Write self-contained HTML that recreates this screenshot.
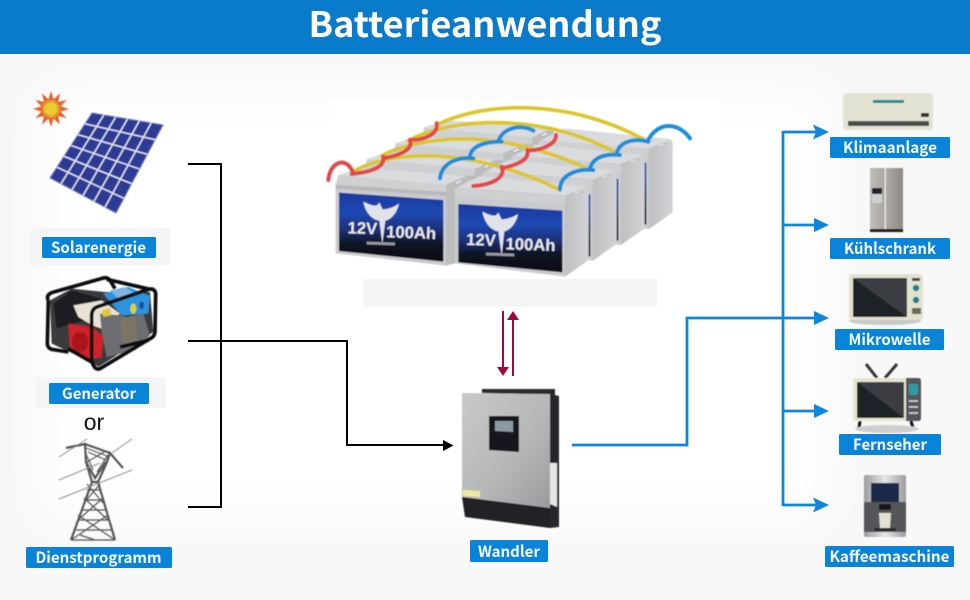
<!DOCTYPE html>
<html><head><meta charset="utf-8"><style>
html,body{margin:0;padding:0;width:970px;height:600px;overflow:hidden;background:#f8f8f8}
svg{display:block}
.l{font-family:"Noto Sans CJK SC","Liberation Sans",sans-serif;font-weight:700;font-size:15.5px;fill:#f4faff;text-anchor:middle}
</style></head><body>
<svg width="970" height="600" viewBox="0 0 970 600" xmlns="http://www.w3.org/2000/svg">
<defs>
<filter id="soft" x="-10%" y="-10%" width="120%" height="120%"><feGaussianBlur stdDeviation="22"/></filter>
<filter id="b1" x="-5%" y="-5%" width="110%" height="110%"><feGaussianBlur stdDeviation=".45"/></filter>
<linearGradient id="lab" x1="0" y1="0" x2="0" y2="1"><stop offset="0" stop-color="#1a3a9e"/><stop offset=".3" stop-color="#1e49b4"/><stop offset=".55" stop-color="#1b2f72"/><stop offset=".75" stop-color="#0e1220"/><stop offset="1" stop-color="#111116"/></linearGradient>
<linearGradient id="side" x1="0" y1="0" x2="1" y2="0"><stop offset="0" stop-color="#bfc0c2"/><stop offset="1" stop-color="#d2d3d5"/></linearGradient>
<linearGradient id="steel" x1="0" y1="0" x2="1" y2="1"><stop offset="0" stop-color="#c9c9ca"/><stop offset=".6" stop-color="#b4b5b6"/><stop offset="1" stop-color="#9a9b9c"/></linearGradient>
<linearGradient id="fr" x1="0" y1="0" x2="1" y2="0"><stop offset="0" stop-color="#c0bdb8"/><stop offset=".45" stop-color="#a8a5a0"/><stop offset=".55" stop-color="#aaa7a2"/><stop offset="1" stop-color="#8d8a85"/></linearGradient>
<linearGradient id="sc" x1="0" y1="1" x2="1" y2="0"><stop offset="0" stop-color="#1d2026"/><stop offset=".5" stop-color="#1d2026"/><stop offset=".5" stop-color="#3a3d43"/><stop offset="1" stop-color="#3a3d43"/></linearGradient>
<linearGradient id="cof" x1="0" y1="0" x2="1" y2="0"><stop offset="0" stop-color="#9c9c9c"/><stop offset=".5" stop-color="#e6e6e6"/><stop offset="1" stop-color="#9c9c9c"/></linearGradient>
<g id="batL">
<polygon points="55,255 118,233 440,257 378,285" fill="#dadbdc"/>
<polygon points="47,282 55,255 378,285 378,310 47,285" fill="#cfd0d2"/>
<polygon points="378,285 440,257 445,275 405,295 405,520 378,527" fill="#bcbdbf"/>
<polygon points="47,284 378,306 378,527 47,490" fill="#cacbcd"/>
<polygon points="47,284 378,306 378,318 47,296" fill="#b8b9bb"/>
<polygon points="402,280 420,270 430,272 412,282" fill="#f4f4f4" stroke="#999" stroke-width="1.5"/>
</g>
<g id="batR">
<polygon points="412,293 480,258 800,290 735,318" fill="#dadbdc"/>
<polygon points="735,318 800,290 806,300 806,510 735,560" fill="url(#side)"/>
<polygon points="405,298 412,293 735,318 735,345 405,322" fill="#cfd0d2"/>
<polygon points="405,320 735,342 735,560 405,520" fill="#cacbcd"/>
<polygon points="415,342 727,362 727,547 415,517" fill="url(#lab)"/>
<polygon points="756,312 778,302 786,304 764,314" fill="#f4f4f4" stroke="#999" stroke-width="1.5"/>
</g>
</defs>

<!-- background -->
<rect width="970" height="600" fill="#f8f8f8"/>
<rect x="45" y="95" width="780" height="420" fill="#fff" filter="url(#soft)"/>
<rect x="330" y="99" width="391" height="180" fill="#fff"/>
<rect x="363" y="279" width="294" height="28" fill="#f5f5f5"/>
<rect x="564" y="312" width="202" height="162" fill="#fff"/>
<rect x="30" y="228" width="140" height="37" fill="#f5f5f5"/>
<rect x="36" y="377" width="130" height="31" fill="#f5f5f5"/>

<!-- header -->
<rect width="970" height="54" fill="#0a7bcb"/>
<text x="485" y="37" text-anchor="middle" textLength="353" lengthAdjust="spacingAndGlyphs" font-family="'Noto Sans CJK SC','Liberation Sans',sans-serif" font-weight="700" font-size="35" fill="#fff">Batterieanwendung</text>

<!-- sun -->
<g filter="url(#b1)">
<polygon points="69,109 60.7,111.6 66.6,118 58.1,116.1 60,124.6 53.6,118.7 51,127 48.4,118.7 42,124.6 43.9,116.1 35.4,118 41.3,111.6 33,109 41.3,106.4 35.4,100 43.9,101.9 42,93.4 48.4,99.3 51,91 53.6,99.3 60,93.4 58.1,101.9 66.6,100 60.7,106.4" fill="#e0642e"/>
<circle cx="51" cy="109" r="9" fill="#e89a2a"/><circle cx="51" cy="109" r="6.5" fill="#e8cb34"/>

<!-- solar panel -->
<polygon points="92,113 163,125 116,213 50,178" fill="#2d3b94" stroke="#6a76b8" stroke-width="1"/>
<g stroke="#e4e7f4" stroke-width="1.4" fill="none">
<path d="M85,123.8L155.2,139.7M78,134.7L147.3,154.3M71,145.5L139.5,169M64,156.3L131.7,183.7M57,167.2L123.8,198.3"/>
<path d="M103.8,115L61,183.8M115.7,117L72,189.7M127.5,119L83,195.5M139.3,121L94,201.3M151.2,123L105,207.2"/>
</g>

<!-- generator -->
<g transform="translate(35,272) scale(.33333)">
<polygon points="45,85 110,50 210,60 345,60 355,180 190,285 170,270 50,215" fill="#3a3a3c"/>
<polygon points="55,95 110,55 200,80 215,130 130,150 65,170" fill="#1e1e20"/>
<polygon points="115,100 200,85 255,125 200,170 172,160 130,135" fill="#e8e2d2"/>
<polygon points="195,125 255,130 275,135 325,125 345,190 300,235 215,255 200,180" fill="#6d6e71"/>
<polygon points="255,140 300,130 308,205 265,215" fill="#7d7464"/>
<polygon points="100,155 172,165 205,195 200,255 165,262 105,225" fill="#cf2029"/>
<ellipse cx="135" cy="210" rx="24" ry="30" fill="#a8161f"/>
<polygon points="205,65 280,45 345,72 340,125 260,130" fill="#2f93dd"/>
<polygon points="225,55 270,45 300,65 250,80" fill="#7db5de"/>
<ellipse cx="295" cy="110" rx="9" ry="15" fill="#e8cf1e"/>
<ellipse cx="320" cy="100" rx="7" ry="12" fill="#1a4ea2"/>
<polygon points="200,115 225,108 228,130 205,135" fill="#e2c83a"/>
<path d="M40,85L37,215Q38,228 50,232L100,240M40,85Q32,70 50,62L205,18Q218,15 225,25L240,50M215,22L345,52" fill="none" stroke="#101010" stroke-width="11" stroke-linejoin="round"/>
<path d="M170,265L170,130Q170,112 185,105L340,52Q360,47 362,66L360,180Q358,195 345,200L195,290Q178,297 170,265ZM100,230L170,270M255,225L340,205" fill="none" stroke="#101010" stroke-width="11" stroke-linejoin="round"/>
</g>

<!-- pylon -->
<g stroke="#555" fill="none">
<path d="M71,540 L92,482 L86,462 L85,444 L66,448 M115,540 L98,482 L107,462 L110,453 L123,468 M85,444 L110,453 M86,462 L95,478 L106,462 M92,482 L98,482" stroke-width="2.2"/>
<path d="M76,530 L111,530 M78,520 L108,520 M81,510 L106,510 M84,500 L103,500 M87,490 L100,490 M71,540 L108,515 M115,540 L78,515 M78,520 L103,498 M108,520 L84,498 M84,503 L100,484 M103,503 L87,484 M80,535 L95,540 M71,540 L115,540 M86,448 L107,456 M88,452 L106,460 M85,452 L93,470 M108,455 L97,472 M87,462 L104,452" stroke-width="1.2"/>
<path d="M59,457 L87,439 M59,480 L100,463 M59,499 L132,470 M112,453 L132,439" stroke="#8f8f8f" stroke-width="1"/>
</g>

<!-- battery -->
<g transform="translate(320,90) scale(.33333)">
<use href="#batL" transform="translate(258,-143)"/>
<use href="#batR" transform="translate(252,-143)"/>
<use href="#batL" transform="translate(172,-95)"/>
<use href="#batR" transform="translate(168,-95)"/>
<use href="#batL" transform="translate(86,-48)"/>
<use href="#batR" transform="translate(84,-48)"/>
<use href="#batL"/>
<polygon points="57,308 370,330 370,515 57,483" fill="url(#lab)"/>
<use href="#batR"/>
<text x="82" y="430" font-family="'Liberation Sans',sans-serif" font-weight="700" font-size="50" fill="#e8e8ec" transform="rotate(2 82 430)">12V</text>
<text x="198" y="442" font-family="'Liberation Sans',sans-serif" font-weight="700" font-size="50" fill="#e8e8ec" transform="rotate(2 198 442)">100Ah</text>
<path d="M130,335 C150,345 165,350 172,345 L178,338 L188,358 C205,358 225,350 237,340 C232,370 210,390 196,392 L187,462 L178,392 C155,390 135,365 130,335Z" fill="#e2e3ea"/>
<text x="438" y="465" font-family="'Liberation Sans',sans-serif" font-weight="700" font-size="50" fill="#e8e8ec" transform="rotate(2 438 465)">12V</text>
<text x="556" y="478" font-family="'Liberation Sans',sans-serif" font-weight="700" font-size="50" fill="#e8e8ec" transform="rotate(2 556 478)">100Ah</text>
<path d="M487,365 C507,375 522,380 529,375 L535,368 L545,388 C562,388 582,380 594,372 C589,402 567,422 553,424 L545,497 L535,424 C512,422 492,395 487,365Z" fill="#e2e3ea"/>
<rect x="140" y="455" width="85" height="8" fill="#9a9aa0" transform="rotate(2 140 455)"/>
<rect x="498" y="488" width="85" height="8" fill="#9a9aa0" transform="rotate(2 498 488)"/>
<!-- wires -->
<g fill="none" stroke-linecap="round">
<g stroke="#dcc62a" stroke-width="11">
<path d="M350,105 C500,30 750,30 965,145"/>
<path d="M265,152 C420,70 700,80 890,190"/>
<path d="M185,197 C340,120 580,130 810,240"/>
<path d="M100,245 C230,170 480,180 720,300"/>
</g>
<g stroke="#e04a4e" stroke-width="12">
<path d="M25,270 C30,215 80,195 100,250"/>
<path d="M95,252 C160,245 195,230 190,200"/>
<path d="M190,205 C240,195 280,180 270,150"/>
<path d="M270,150 C320,150 355,130 350,100"/>
<path d="M460,288 C510,285 560,265 545,230"/>
<path d="M545,235 C590,225 630,210 622,180"/>
<path d="M625,182 C670,180 710,160 708,135"/>
</g>
<g stroke="#1e8ed8" stroke-width="12">
<path d="M360,265 C365,215 420,200 460,205"/>
<path d="M450,198 C455,165 500,155 545,155"/>
<path d="M535,155 C545,115 600,100 640,122"/>
<path d="M720,298 C720,255 770,235 820,240"/>
<path d="M810,235 C820,200 860,190 900,195"/>
<path d="M890,190 C900,150 950,145 985,155"/>
<path d="M985,150 C1010,100 1070,90 1110,145"/>
</g>
</g>
</g>

<!-- inverter -->
<polygon points="482,389 555,389 555,395 482,393" fill="#2a2a2c"/>
<polygon points="550,394 559,396 559,527 550,528" fill="#26262a"/>
<polygon points="462,393 550,394 550,508 462,497" fill="url(#steel)"/>
<polygon points="462,497 550,508 550,528 465,517" fill="#222226"/>
<polygon points="489,416 519,416 519,452 489,450" fill="#17171b"/>
<polygon points="495,421 513,421 513,432 495,431" fill="#8a9aa5"/>
<polygon points="463,490 480,491 480,497 463,496" fill="#f0e8a0"/>
<polygon points="550,463 557,463 557,507 550,504" fill="#e5e5e5"/>

<!-- devices: AC -->
<rect x="843" y="93" width="90" height="37" rx="3" fill="#e2e3d3"/>
<rect x="873" y="100" width="31" height="3" fill="#1f8a94"/>
<rect x="848" y="121" width="81" height="5" fill="#4b4d4b"/>
<rect x="921" y="113" width="8" height="4" fill="#333"/>
<!-- fridge -->
<rect x="870" y="168" width="33" height="64" fill="url(#fr)"/>
<rect x="884.5" y="168" width="1.5" height="62" fill="#e6e6e6"/>
<rect x="872" y="188" width="10" height="15" fill="#cfcfcf"/>
<rect x="872" y="188" width="10" height="6" fill="#23242a"/>
<rect x="870" y="229" width="33" height="3" fill="#1c1c1c"/>
<!-- microwave -->
<ellipse cx="885" cy="321" rx="36" ry="4" fill="#c9c9c6"/>
<rect x="849" y="274" width="74" height="46" rx="3" fill="#e3e2cf"/>
<polygon points="853,278 907,278 907,317 853,317" fill="url(#sc)"/>
<circle cx="916" cy="288" r="3.2" fill="#1f7f8a"/><circle cx="916" cy="300" r="3.2" fill="#1f7f8a"/>
<rect x="912" y="278" width="8" height="3" fill="#444"/>
<rect x="912" y="308" width="9" height="6" fill="#6b6b60"/>
<!-- tv -->
<path d="M866,364L877,378M897,364L885,378" stroke="#34363a" stroke-width="3"/>
<path d="M860,421L859,428M911,421L913,428" stroke="#111" stroke-width="3"/>
<ellipse cx="887" cy="429" rx="32" ry="4" fill="#cfcfcf"/>
<rect x="853" y="378" width="54" height="43" rx="2" fill="#e6e6cf"/>
<polygon points="857,382 904,382 904,418 857,418" fill="url(#sc)"/>
<path d="M906,378h12q3,0 3,3v37q0,3 -3,3h-12z" fill="#55575b"/>
<rect x="909" y="384" width="9" height="11" rx="2" fill="#2d9aa6"/>
<path d="M909,401h9M909,407h9M909,413h9" stroke="#ddd" stroke-width="1.6"/>
<!-- coffee -->
<rect x="864" y="475" width="42" height="62" rx="2" fill="url(#cof)"/>
<rect x="871" y="483" width="28" height="19" fill="#1c2a4a"/>
<rect x="864" y="502" width="42" height="30" fill="#55565a"/>
<rect x="879" y="504" width="12" height="6" fill="#17181b"/>
<polygon points="879,513 891,513 890,528 880,528" fill="#e4e0d4"/>
<rect x="874" y="528" width="22" height="3" fill="#2a2a2c"/>
</g>

<!-- or -->
<text x="94" y="430" text-anchor="middle" font-family="'Liberation Sans',sans-serif" font-size="23" fill="#111">or</text>

<!-- black connectors -->
<g fill="none" stroke="#000" stroke-width="2">
<path d="M188,164H221V507H188"/>
<path d="M188,341H347V445H447"/>
</g>
<polygon points="453.5,445.5 443,440 443,451" fill="#000"/>

<!-- red arrows -->
<path d="M503,311V368M513,319V376" stroke="#a3073f" stroke-width="2" fill="none"/>
<polygon points="497,367 509,367 503,376" fill="#a3073f"/>
<polygon points="507,320 519,320 513,311" fill="#a3073f"/>

<!-- blue connectors -->
<g fill="none" stroke="#0f86dc" stroke-width="2.8">
<path d="M572,445H687V318H816"/>
<path d="M783,131V506"/>
<path d="M783,132H816M783,225H816M783,411H816M783,505H816"/>
</g>
<g fill="#0f86dc">
<polygon points="829,132 813,124.5 816,132 813,139.5"/>
<polygon points="829,225 814,218 814,232"/>
<polygon points="829,318 814,311 814,325"/>
<polygon points="829,411 814,404 814,418"/>
<polygon points="829,505 813,497.5 816,505 813,512.5"/>
</g>

<!-- labels -->
<g fill="#0a84d8">
<rect x="42" y="237" width="114" height="21" rx="1.5"/>
<rect x="49" y="383" width="100" height="21" rx="1.5"/>
<rect x="26" y="547" width="146" height="21" rx="1.5"/>
<rect x="470" y="540" width="78" height="22" rx="1.5"/>
<rect x="830" y="137" width="120" height="21" rx="1.5"/>
<rect x="830" y="238" width="120" height="21" rx="1.5"/>
<rect x="835" y="329" width="109" height="21" rx="1.5"/>
<rect x="839" y="434" width="102" height="21" rx="1.5"/>
<rect x="825" y="546" width="129" height="21" rx="1.5"/>
</g>
<text class="l" x="98.5" y="253" textLength="95" lengthAdjust="spacingAndGlyphs">Solarenergie</text>
<text class="l" x="99" y="399" textLength="74" lengthAdjust="spacingAndGlyphs">Generator</text>
<text class="l" x="98.5" y="563" textLength="126" lengthAdjust="spacingAndGlyphs">Dienstprogramm</text>
<text class="l" x="509" y="557" textLength="62" lengthAdjust="spacingAndGlyphs">Wandler</text>
<text class="l" x="890" y="153" textLength="94" lengthAdjust="spacingAndGlyphs">Klimaanlage</text>
<text class="l" x="890" y="254" textLength="92" lengthAdjust="spacingAndGlyphs">Kühlschrank</text>
<text class="l" x="889.5" y="345" textLength="82" lengthAdjust="spacingAndGlyphs">Mikrowelle</text>
<text class="l" x="890" y="450" textLength="74" lengthAdjust="spacingAndGlyphs">Fernseher</text>
<text class="l" x="889.5" y="562" textLength="120" lengthAdjust="spacingAndGlyphs">Kaffeemaschine</text>
</svg>
</body></html>
